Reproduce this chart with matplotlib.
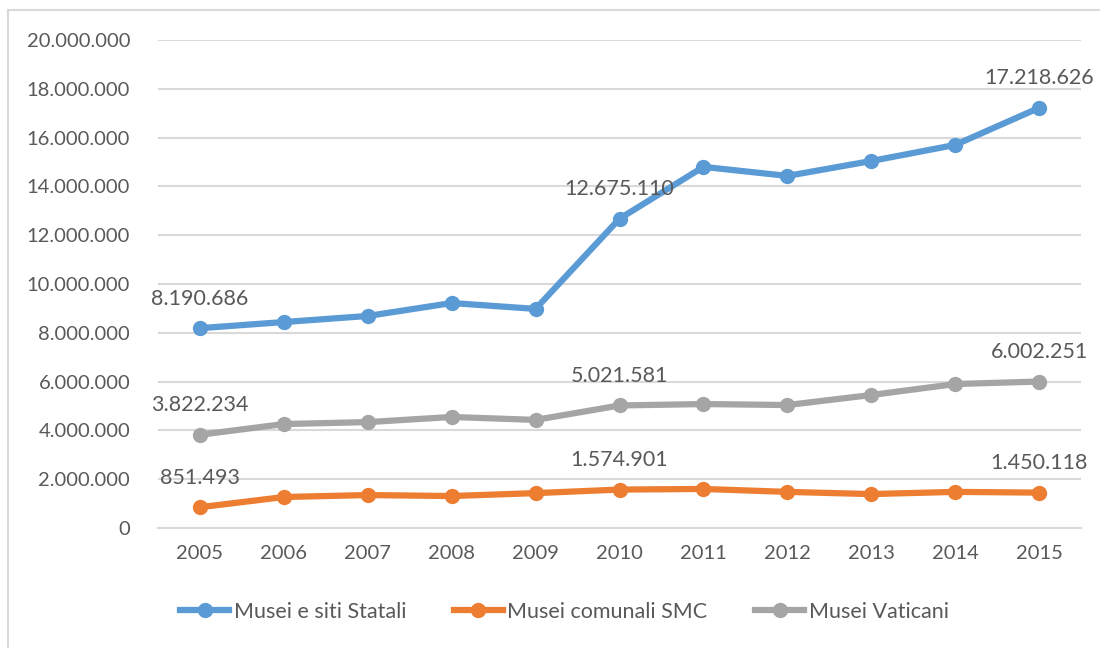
import matplotlib.pyplot as plt
from matplotlib.ticker import FuncFormatter
from matplotlib.lines import Line2D

years = [2005, 2006, 2007, 2008, 2009, 2010, 2011, 2012, 2013, 2014, 2015]
statali = [8190686, 8440000, 8690000, 9220000, 8980000, 12675110,
           14800000, 14430000, 15040000, 15700000, 17218626]
comunali = [851493, 1270000, 1350000, 1310000, 1430000, 1574901,
            1600000, 1480000, 1390000, 1480000, 1450118]
vaticani = [3822234, 4260000, 4340000, 4550000, 4430000, 5021581,
            5080000, 5040000, 5450000, 5900000, 6002251]

series = [
    ("Musei e siti Statali", statali, "#5b9bd5"),
    ("Musei comunali SMC", comunali, "#ed7d31"),
    ("Musei Vaticani", vaticani, "#a5a5a5"),
]
label_idx = [0, 5, 10]

plt.rcParams['font.family'] = ['Lato', 'DejaVu Sans']
txt = "#595959"


def dotted(v):
    return f"{int(round(v)):,}".replace(",", ".")


fig = plt.figure(figsize=(11, 6.48), dpi=100)
ax = fig.add_axes([158 / 1100, 1 - 528 / 648, (1081 - 158) / 1100, (528 - 40) / 648])

x = list(range(len(years)))
for name, vals, col in series:
    ax.plot(x, vals, color=col, lw=4.5, marker="o", ms=10, solid_capstyle="round", zorder=3)
    for i in label_idx:
        ax.annotate(dotted(vals[i]), (x[i], vals[i]), xytext=(0, 14),
                    textcoords="offset points", ha="center", va="bottom",
                    fontsize=15.5, color=txt)

ax.set_xlim(-0.5, len(years) - 0.5)
ax.set_ylim(0, 20000000)
ax.set_yticks(range(0, 20000001, 2000000))
ax.yaxis.set_major_formatter(FuncFormatter(lambda v, p: dotted(v)))
ax.set_xticks(x)
ax.set_xticklabels([str(y) for y in years])
ax.grid(axis="y", color="#d9d9d9", lw=1.5)
ax.set_axisbelow(True)
for s in ["top", "right", "left"]:
    ax.spines[s].set_visible(False)
ax.spines["bottom"].set_color("#d9d9d9")
ax.spines["bottom"].set_linewidth(1.5)
ax.tick_params(axis="both", length=0, labelsize=14.5, colors=txt)
ax.tick_params(axis="y", pad=20)
ax.tick_params(axis="x", pad=12)

handles = [Line2D([0], [0], color=c, lw=4.5, marker="o", ms=10) for _, _, c in series]
fig.legend(handles, [n for n, _, _ in series], loc="center", bbox_to_anchor=(0.513, 1 - 612 / 648),
           ncol=3, frameon=False, fontsize=15.5, labelcolor=txt, handlelength=2.3,
           columnspacing=2.2, handletextpad=0.2)

# chart border (only top/left visible in the crop)
fig.add_artist(Line2D([8 / 1100, 8 / 1100], [0, 1 - 10 / 648], color="#d9d9d9", lw=1.5))
fig.add_artist(Line2D([8 / 1100, 1], [1 - 10 / 648, 1 - 10 / 648], color="#d9d9d9", lw=1.5))

fig.savefig("out.png", dpi=100)
